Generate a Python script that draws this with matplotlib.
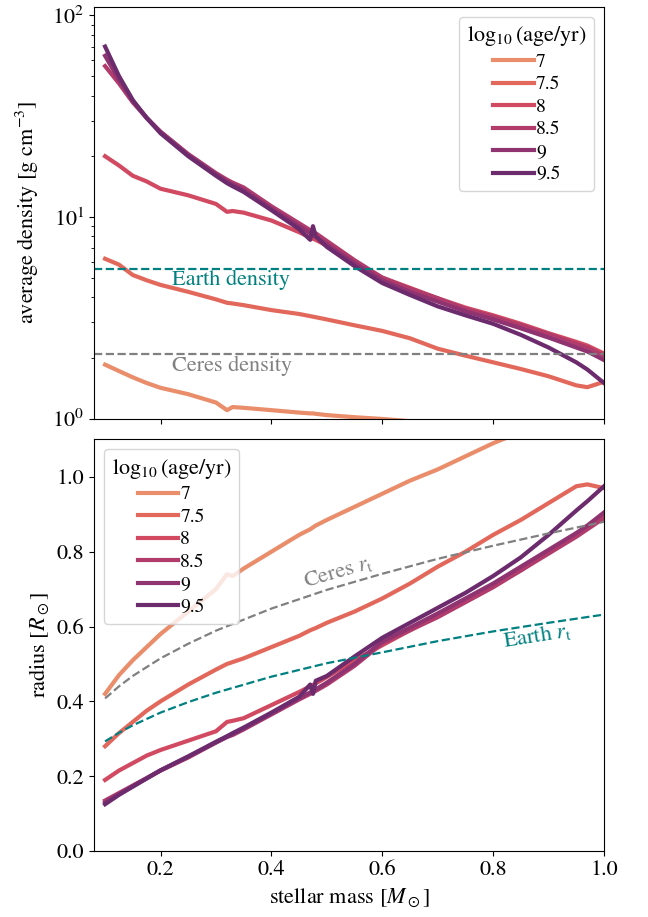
import matplotlib
matplotlib.use("Agg")
import matplotlib.pyplot as plt
import seaborn as sns

plt.rcParams['font.family'] = ['STIXGeneral', 'DejaVu Serif']
plt.rcParams['mathtext.fontset'] = 'stix'
plt.rcParams['font.size'] = 16

# stellar mass grid [M_sun]
mass = [0.1, 0.125, 0.15, 0.175, 0.2, 0.25, 0.3, 0.32, 0.33, 0.35, 0.4, 0.45, 0.47,
        0.475, 0.48, 0.5, 0.55, 0.6, 0.65, 0.7, 0.75, 0.8, 0.85, 0.9, 0.95, 0.97, 1.0]

ages = ['7', '7.5', '8', '8.5', '9', '9.5']

# average density [g cm^-3]
dens_7 = [1.85, 1.72, 1.6, 1.5, 1.42, 1.32, 1.2, 1.1, 1.14, 1.13, 1.1, 1.07, 1.06,
          1.06, 1.055, 1.04, 1.015, 0.995, 0.97, 0.95, 0.93, 0.91, 0.89, 0.87, 0.85, 0.84, 0.83]
dens_75 = [6.2, 5.8, 5.15, 4.85, 4.6, 4.25, 3.9, 3.75, 3.72, 3.65, 3.45, 3.3, 3.22,
           3.2, 3.18, 3.1, 2.9, 2.72, 2.5, 2.22, 2.05, 1.9, 1.76, 1.62, 1.46, 1.43, 1.52]
dens_8 = [20, 18, 16, 15, 13.8, 12.8, 11.6, 10.6, 10.7, 10.5, 9.6, 8.4, 7.9,
          7.8, 7.7, 7.2, 5.95, 5.0, 4.45, 3.95, 3.55, 3.25, 2.95, 2.65, 2.4, 2.3, 2.1]
dens_85 = [56, 46, 37, 31, 26.5, 20.5, 16.5, 15.3, 14.8, 14.0, 11.3, 9.3, 8.6,
           8.4, 8.3, 7.6, 6.1, 5.0, 4.4, 3.95, 3.5, 3.2, 2.9, 2.62, 2.35, 2.25, 2.05]
dens_9 = [63, 48, 37.5, 31, 26.3, 20.3, 16.3, 15.0, 14.5, 13.6, 11.0, 9.0, 8.3,
          8.1, 8.0, 7.3, 5.9, 4.85, 4.25, 3.8, 3.4, 3.1, 2.8, 2.52, 2.25, 2.15, 1.95]
dens_95 = [70, 50, 38, 31, 26, 20, 16, 14.7, 14.2, 13.3, 10.8, 8.7, 7.7,
           9.0, 8.0, 7.1, 5.7, 4.7, 4.1, 3.6, 3.25, 2.95, 2.6, 2.25, 1.9, 1.75, 1.5]

# radius [R_sun]
rad_7 = [0.42, 0.47, 0.51, 0.545, 0.58, 0.64, 0.70, 0.74, 0.735, 0.755, 0.80, 0.845, 0.86,
         0.865, 0.87, 0.885, 0.92, 0.955, 0.99, 1.02, 1.055, 1.09, 1.12, 1.15, 1.18, 1.19, 1.21]
rad_75 = [0.28, 0.315, 0.345, 0.375, 0.40, 0.445, 0.485, 0.50, 0.505, 0.515, 0.545, 0.575, 0.59,
          0.593, 0.596, 0.61, 0.64, 0.675, 0.715, 0.76, 0.80, 0.845, 0.885, 0.93, 0.975, 0.98, 0.97]
rad_8 = [0.19, 0.215, 0.235, 0.255, 0.27, 0.295, 0.32, 0.345, 0.348, 0.355, 0.39, 0.425, 0.44,
         0.444, 0.448, 0.465, 0.51, 0.55, 0.59, 0.63, 0.67, 0.71, 0.75, 0.80, 0.845, 0.865, 0.895]
rad_85 = [0.135, 0.155, 0.175, 0.195, 0.215, 0.25, 0.29, 0.305, 0.31, 0.325, 0.365, 0.405, 0.42,
          0.424, 0.428, 0.445, 0.495, 0.555, 0.59, 0.625, 0.665, 0.705, 0.75, 0.795, 0.84, 0.86, 0.89]
rad_9 = [0.13, 0.152, 0.173, 0.194, 0.215, 0.252, 0.29, 0.305, 0.312, 0.327, 0.367, 0.408, 0.424,
         0.428, 0.432, 0.45, 0.50, 0.56, 0.597, 0.635, 0.675, 0.715, 0.76, 0.805, 0.85, 0.87, 0.905]
rad_95 = [0.125, 0.15, 0.172, 0.194, 0.216, 0.253, 0.292, 0.307, 0.315, 0.33, 0.37, 0.412, 0.445,
          0.42, 0.455, 0.468, 0.52, 0.57, 0.61, 0.65, 0.69, 0.735, 0.785, 0.845, 0.91, 0.935, 0.975]

densities = [dens_7, dens_75, dens_8, dens_85, dens_9, dens_95]
radii = [rad_7, rad_75, rad_8, rad_85, rad_9, rad_95]

# tidal radius curves
rt_mass = [0.1, 0.125, 0.15, 0.2, 0.25, 0.3, 0.4, 0.5, 0.6, 0.7, 0.8, 0.9, 1.0]
rt_earth = [0.293, 0.316, 0.336, 0.370, 0.398, 0.423, 0.466, 0.502, 0.531, 0.561, 0.587, 0.610, 0.632]
rt_ceres = [0.408, 0.440, 0.468, 0.515, 0.554, 0.589, 0.648, 0.698, 0.741, 0.781, 0.816, 0.849, 0.880]

earth_density = 5.51
ceres_density = 2.1

colors = sns.color_palette("flare", 6)
teal = '#008080'

fig, (ax1, ax2) = plt.subplots(2, 1, sharex=True, figsize=(6.48, 9.17), dpi=100)
fig.subplots_adjust(left=94/648, right=604/648, top=1-7/917, bottom=1-851/917, hspace=0.051)

for dens, rad, age, c in zip(densities, radii, ages, colors):
    ax1.plot(mass, dens, color=c, lw=3, label=age)
    ax2.plot(mass, rad, color=c, lw=3, label=age)

ax1.axhline(earth_density, color=teal, ls='--', lw=1.6)
ax1.axhline(ceres_density, color='gray', ls='--', lw=1.6)
ax1.text(0.22, 4.85, 'Earth density', color=teal, va='center', ha='left')
ax1.text(0.22, 1.83, 'Ceres density', color='gray', va='center', ha='left')

ax2.plot(rt_mass, rt_earth, color=teal, ls='--', lw=1.6)
ax2.plot(rt_mass, rt_ceres, color='gray', ls='--', lw=1.6)
ax2.text(0.52, 0.745, r'Ceres $r_\mathrm{t}$', color='gray', ha='center', va='center', rotation=16)
ax2.text(0.88, 0.575, r'Earth $r_\mathrm{t}$', color=teal, ha='center', va='center', rotation=9)

ax1.set_yscale('log')
ax1.set_ylim(1, 110)
ax1.set_ylabel(r'average density [g cm$^{-3}$]', labelpad=8)
ax2.set_ylim(0, 1.1)
ax2.set_xlim(0.08, 1.0)
ax2.set_xticks([0.2, 0.4, 0.6, 0.8, 1.0])
ax2.set_ylabel(r'radius [$R_\odot$]')
ax2.set_xlabel(r'stellar mass [$M_\odot$]')

title = r'$\log_{10}$(age/yr)'
ax1.legend(title=title, loc='upper right', fontsize=14, title_fontsize=16,
           handlelength=2.1, handletextpad=0.1, labelspacing=0.25)
ax2.legend(title=title, loc='upper left', fontsize=14, title_fontsize=16,
           handlelength=2.1, handletextpad=0.1, labelspacing=0.25)

fig.savefig('out.png', dpi=100)
